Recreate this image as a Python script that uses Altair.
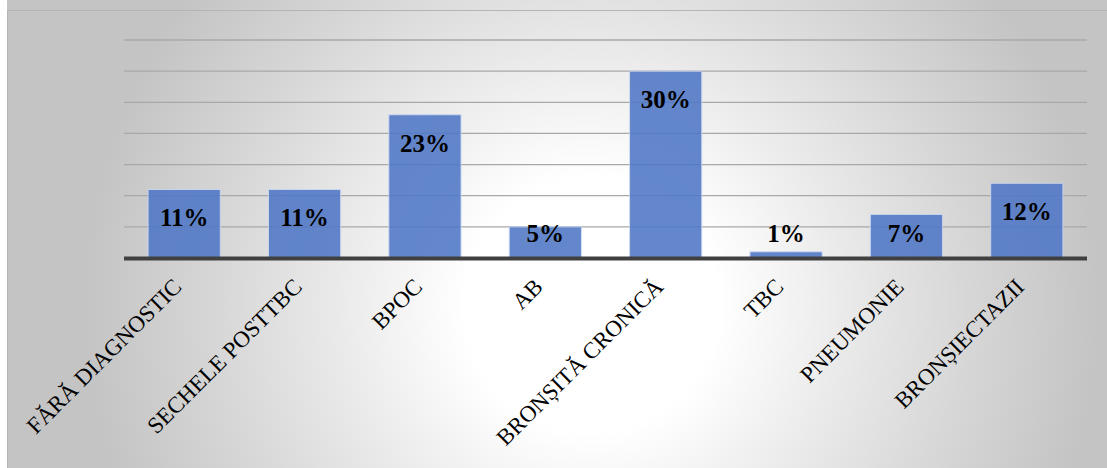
import altair as alt
import pandas as pd

# Diagnosis categories and their shares (%)
categories = [
    "FĂRĂ DIAGNOSTIC",
    "SECHELE POSTTBC",
    "BPOC",
    "AB",
    "BRONȘITĂ CRONICĂ",
    "TBC",
    "PNEUMONIE",
    "BRONȘIECTAZII",
]
shares = [11, 11, 23, 5, 30, 1, 7, 12]
grid_values = [5, 10, 15, 20, 25, 30, 35]

df = pd.DataFrame({"cat": categories, "val": shares})
df["label"] = [f"{v}%" for v in shares]
grid_df = pd.DataFrame({"g": grid_values})
one = pd.DataFrame({"k": [0]})

W, H = 963, 218
PAD_L, PAD_T = 124, 40
y_scale = alt.Scale(domain=[0, 35], nice=False, zero=True)
x_scale = alt.Scale(domain=categories, paddingInner=0.4, paddingOuter=0.2)

# Radial grey-to-white fill behind everything
bg = alt.Chart(one).mark_rect(
    fill={
        "gradient": "radial",
        "x1": 0.53, "y1": 0.55, "r1": 0,
        "x2": 0.53, "y2": 0.55, "r2": 0.46,
        "stops": [
            {"offset": 0, "color": "#ffffff"},
            {"offset": 0.25, "color": "#ffffff"},
            {"offset": 0.5, "color": "#eaeaea"},
            {"offset": 0.75, "color": "#d6d6d6"},
            {"offset": 1, "color": "#c4c4c4"},
        ],
    },
    strokeWidth=0,
).encode(
    x=alt.value(7 - PAD_L), x2=alt.value(1110 - PAD_L),
    y=alt.value(-290), y2=alt.value(710),
)

frame = alt.Chart(one).mark_rect(
    fillOpacity=0, stroke="#b4b4b4", strokeWidth=1
).encode(
    x=alt.value(7.5 - PAD_L), x2=alt.value(1110 - PAD_L),
    y=alt.value(10.5 - PAD_T), y2=alt.value(480 - PAD_T),
)

grid = alt.Chart(grid_df).mark_rule(color="#a8a8a8", strokeWidth=1.3).encode(
    y=alt.Y("g:Q", scale=y_scale, axis=None),
    x=alt.value(0), x2=alt.value(W),
)

bars = alt.Chart(df).mark_bar(
    color="#4f77c6", opacity=0.88, stroke="#c9d6f0", strokeWidth=1
).encode(
    x=alt.X(
        "cat:N", sort=categories, scale=x_scale,
        axis=alt.Axis(
            title=None, labelAngle=-45, labelFont="Liberation Serif",
            labelFontSize=23, labelColor="#000000", ticks=False,
            domain=False, grid=False, labelPadding=17, labelOffset=-14,
            zindex=1, labelLimit=400,
        ),
    ),
    y=alt.Y("val:Q", scale=y_scale, axis=None),
)

baseline = alt.Chart(one).mark_rule(color="#404040", strokeWidth=4).encode(
    y=alt.value(H + 0.5),
    x=alt.value(0), x2=alt.value(W),
)

labels = alt.Chart(df).transform_calculate(
    ly="max(datum.val - 5.94, 2.57)"
).mark_text(
    font="Liberation Serif", fontSize=25, fontWeight="bold",
    color="#000000", baseline="alphabetic", align="center",
).encode(
    x=alt.X("cat:N", sort=categories, scale=x_scale),
    y=alt.Y("ly:Q", scale=y_scale),
    text="label:N",
)

chart = alt.layer(bg, frame, grid, bars, baseline, labels).properties(
    width=W, height=H,
    autosize=alt.AutoSizeParams(type="none"),
    padding={"left": PAD_L, "top": PAD_T, "right": 1107 - PAD_L - W, "bottom": 468 - PAD_T - H},
    background="#ffffff",
).configure_view(stroke=None)

chart.save("out.html", embed_options={"renderer": "svg", "actions": False})
